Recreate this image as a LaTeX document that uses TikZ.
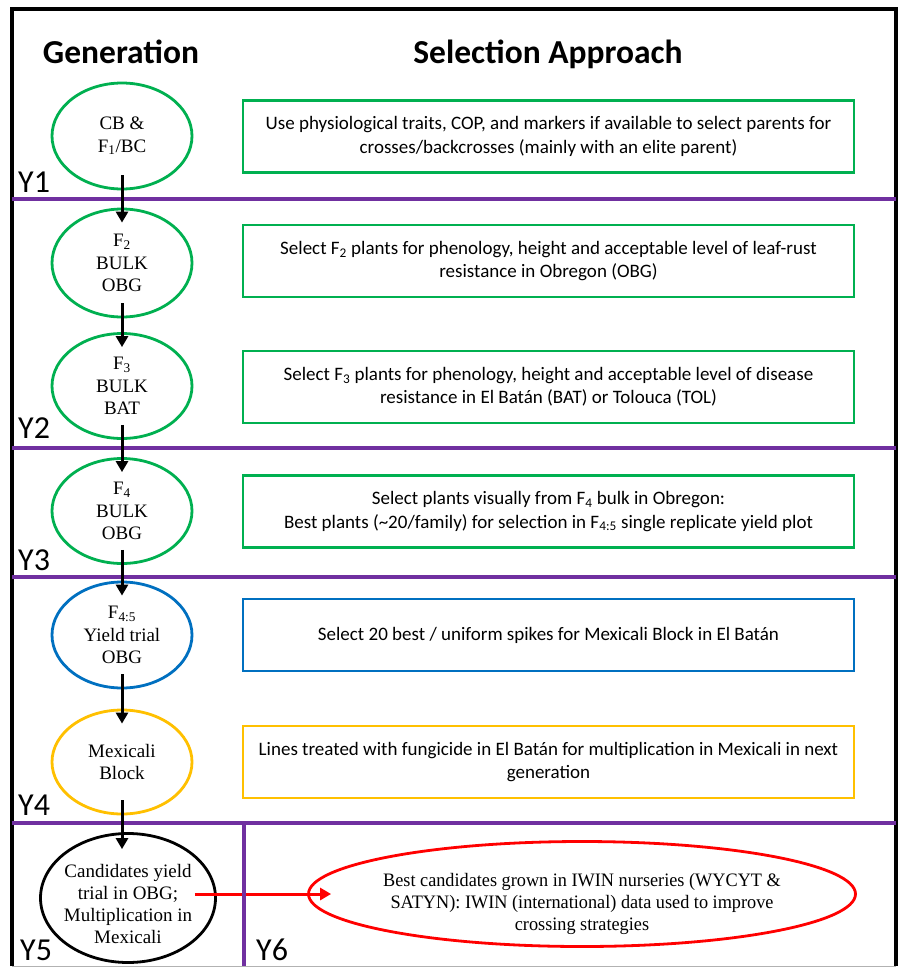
\documentclass[tikz,border=0pt]{standalone}
\usepackage{fontspec}
\setmainfont{Liberation Serif}
\newfontfamily\calfont{Carlito}
\newfontfamily\narrowserif[FakeStretch=0.96]{Liberation Serif}
\usetikzlibrary{shapes.geometric,arrows.meta}
\definecolor{cgreen}{HTML}{00B050}
\definecolor{cblue}{HTML}{0070C0}
\definecolor{cyellow}{HTML}{FFC000}
\definecolor{cpurple}{HTML}{7030A0}
\definecolor{cred}{HTML}{FF0000}
\begin{document}
\begin{tikzpicture}[x=1pt,y=-1pt,
  gell/.style={ellipse, draw=#1, line width=2.8pt, inner sep=0pt,
    minimum width=140pt, minimum height=106pt, align=center,
    font=\fontsize{19}{22.3}\selectfont},
  tbox/.style={draw=#1, line width=2.8pt, minimum width=611pt,
    minimum height=72pt, inner sep=0pt, align=center,
    font=\calfont\fontsize{19}{23.2}\selectfont},
  arr/.style={line width=3pt, -{Triangle[width=12pt,length=11pt]}},
  purp/.style={draw=cpurple, line width=4pt},
  ylab/.style={anchor=base west, inner sep=0pt, text depth=0pt,
    font=\calfont\fontsize{32}{32}\selectfont},
  head/.style={anchor=base, inner sep=0pt,
    font=\calfont\bfseries\fontsize{33.5}{33.5}\selectfont},
]
\useasboundingbox (0,0) rectangle (899,967);
\fill[white] (0,0) rectangle (899,967);

% frame
\draw[black, line width=3.5pt] (12,966) -- (12,9) -- (896,9) -- (896,966);
\draw[gray!60, line width=1pt] (12,966) -- (896,966);

% headings
\node[head] (h1) at (121,63) {Generation};
\node[head] (h2) at (548,63) {Selection Approach};

% generation ellipses
\node[gell=cgreen, minimum height=106pt] (e1) at (122,136) {CB \&\\F\textsubscript{1}/BC};
\node[gell=cgreen, minimum height=108pt] (e2) at (122,263) {F\textsubscript{2}\\BULK\\OBG};
\node[gell=cgreen, minimum height=105pt] (e3) at (122,386) {F\textsubscript{3}\\BULK\\BAT};
\node[gell=cgreen, minimum height=105pt] (e4) at (122,511) {F\textsubscript{4}\\BULK\\OBG};
\node[gell=cblue, minimum height=106pt] (e5) at (122,635) {F\textsubscript{4:5}\\Yield trial\\OBG};
\node[gell=cyellow, minimum height=104pt] (e6) at (122,762) {Mexicali\\Block};
\node[gell=black, minimum width=175pt, minimum height=129pt] (e7) at (128,898) {};
\node[align=center, inner sep=0pt, font=\fontsize{19}{22.3}\selectfont] (e7t) at ([yshift=-6pt]e7.center)
  {Candidates yield\\trial in OBG;\\Multiplication in\\Mexicali};
\node[ellipse, draw=cred, line width=2.8pt, inner sep=0pt,
  minimum width=547pt, minimum height=105pt] (e8) at (582,894) {};
\node[align=center, inner sep=0pt, font=\narrowserif\fontsize{19}{21.8}\selectfont] (e8t) at ([yshift=-10pt]e8.center)
  {Best candidates grown in IWIN nurseries (WYCYT \&\\SATYN): IWIN (international) data used to improve\\crossing strategies};

% selection boxes
\node[tbox=cgreen] (b1) at (548.5,136.5) {Use physiological traits, COP, and markers if available to select parents for\\crosses/backcrosses (mainly with an elite parent)};
\node[tbox=cgreen] (b2) at (548.5,261) {Select F\textsubscript{2} plants for phenology, height and acceptable level of leaf-rust\\resistance in Obregon (OBG)};
\node[tbox=cgreen] (b3) at (548.5,387) {Select F\textsubscript{3} plants for phenology, height and acceptable level of disease\\resistance in El Batán (BAT) or Tolouca (TOL)};
\node[tbox=cgreen] (b4) at (548.5,511.5) {Select plants visually from F\textsubscript{4} bulk in Obregon:\\Best plants (\textasciitilde20/family) for selection in F\textsubscript{4:5} single replicate yield plot};
\node[tbox=cblue] (b5) at (548.5,635) {Select 20 best / uniform spikes for Mexicali Block in El Batán};
\node[tbox=cyellow] (b6) at (548.5,762) {Lines treated with fungicide in El Batán for multiplication in Mexicali in next\\generation};

% red arrow
\draw[arr, cred] ([xshift=-22pt]e7.east |- e8.west) -- ([xshift=24pt]e8.west);

% year separators
\draw[purp] (12,199) -- (896,199);
\draw[purp] (12,448) -- (896,448);
\draw[purp] (12,577) -- (896,577);
\draw[purp] (12,823) -- (896,823);
\draw[purp] (244,823) -- (244,966);

% black arrows
\foreach \a/\b in {e1/e2,e2/e3,e3/e4,e4/e5,e5/e6}
  \draw[arr] ([yshift=15pt]\a.south) -- ([yshift=-15pt]\b.north);
\draw[arr] ([yshift=15pt]e6.south) -- ([yshift=-17pt]e6.south |- e7.north);

% year labels
\node[ylab] (y1) at (18,192) {Y1};
\node[ylab] (y2) at (18,438) {Y2};
\node[ylab] (y3) at (18,570) {Y3};
\node[ylab] (y4) at (18,815) {Y4};
\node[ylab] (y5) at (20,960) {Y5};
\node[ylab] (y6) at (256,960) {Y6};
\end{tikzpicture}
\end{document}
